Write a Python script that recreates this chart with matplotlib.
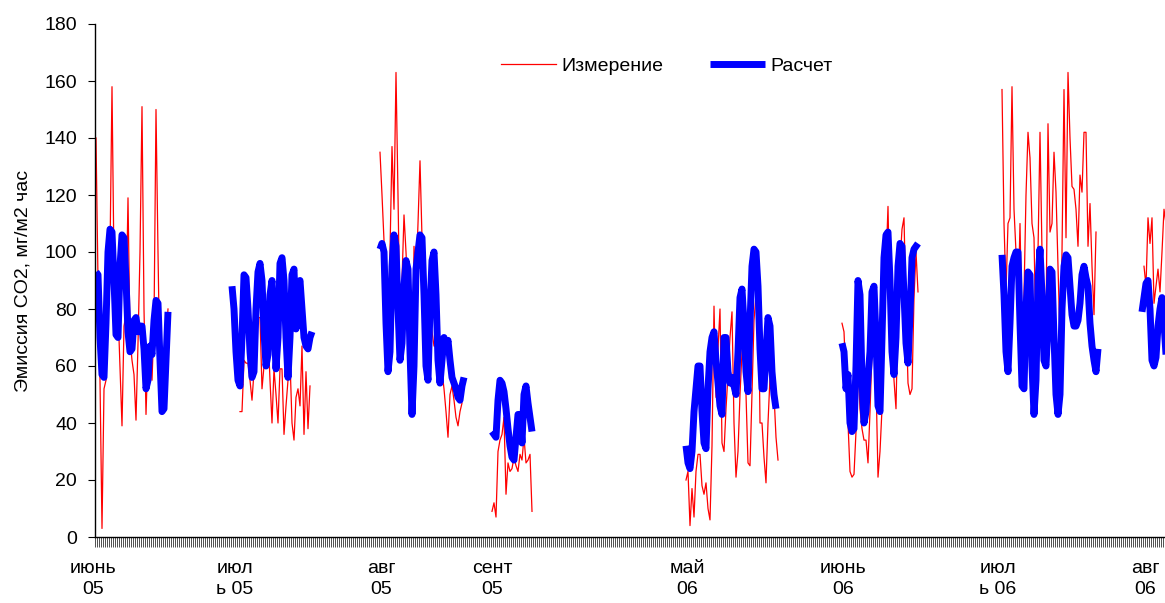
import numpy as np
import matplotlib.pyplot as plt

plt.rcParams['font.family'] = ['Liberation Sans', 'DejaVu Sans']
plt.rcParams['font.size'] = 14

n_cat = 545  # число категорий (отсчетов) по оси X

# подписи месяцев и их позиции (номер отсчета)
month_labels = ['июнь\n05', 'июл\nь 05', 'авг\n05', 'сент\n05',
                'май\n06', 'июнь\n06', 'июл\nь 06', 'авг\n06']
month_pos = [-1.5, 69.5, 142.5, 198, 295.5, 373.5, 451, 524.5]

# ---------------- Расчет (модель) ----------------
calc_start = [0, 68, 142, 198, 295, 373, 453, 523]
calc_jun05 = [93, 92, 70, 57, 56, 75, 100, 108, 107, 90, 71, 70, 95, 106, 105, 90, 72, 65, 66,
              76, 77, 72, 74, 74, 66, 52, 55, 67, 64, 76, 83, 82, 62, 44, 45, 62, 79]
calc_jul05 = [88, 80, 65, 55, 53, 70, 92, 91, 80, 65, 56, 58, 80, 93, 96, 90, 72, 60, 64, 85, 90,
              75, 59, 70, 96, 98, 90, 70, 56, 70, 92, 94, 73, 88, 90, 80, 70, 67, 66, 70, 72]
calc_aug05 = [101, 103, 100, 75, 58, 65, 95, 106, 102, 80, 62, 68, 88, 97, 94, 65, 43, 60, 94,
              100, 106, 105, 85, 60, 55, 80, 97, 100, 85, 62, 54, 62, 70, 66, 69, 62, 56, 54,
              52, 49, 48, 53, 56]
calc_sep05 = [37, 36, 35, 48, 55, 54, 51, 45, 38, 32, 28, 27, 35, 43, 43, 33, 50, 53, 47, 42, 37]
calc_may06 = [32, 26, 24, 30, 44, 52, 60, 60, 44, 33, 31, 52, 65, 70, 72, 62, 54, 46, 43, 70, 70,
              58, 54, 56, 53, 50, 65, 84, 87, 75, 58, 51, 75, 95, 101, 100, 88, 66, 52, 52, 65,
              77, 74, 58, 50, 45]
calc_jun06 = [68, 65, 52, 57, 40, 37, 38, 60, 90, 85, 55, 40, 44, 56, 65, 86, 88, 70, 46, 44, 70,
              98, 106, 107, 90, 65, 57, 70, 95, 103, 102, 85, 68, 61, 78, 98, 101, 102, 103]
calc_jul06 = [99, 85, 65, 58, 75, 95, 98, 100, 100, 75, 53, 52, 80, 93, 92, 60, 43, 55, 90, 101,
              85, 62, 60, 75, 94, 93, 70, 50, 43, 50, 80, 95, 99, 98, 88, 78, 74, 74, 76, 82,
              92, 95, 91, 88, 75, 67, 62, 58, 66]
calc_aug06 = [79, 84, 89, 90, 80, 62, 60, 63, 74, 80, 84, 75, 64, 60, 66]

# ---------------- Измерение ----------------
meas_start = [0, 72, 142, 198, 295, 373, 453, 524]
meas_jun05 = [140, 90, 55, 3, 52, 55, 90, 100, 158, 95, 72, 80, 60, 39, 74, 78, 119, 70, 62, 57,
              41, 68, 100, 151, 80, 43, 65, 65, 55, 75, 150, 100, 55, 43, 45, 70, 80]
meas_jul05 = [44, 44, 62, 61, 61, 55, 48, 58, 70, 77, 77, 52, 60, 65, 72, 55, 40, 59, 50, 40,
              59, 59, 36, 46, 55, 62, 40, 34, 49, 52, 46, 67, 36, 58, 38, 53]
meas_aug05 = [135, 120, 104, 80, 69, 100, 137, 115, 163, 120, 73, 90, 113, 100, 85, 77, 45, 102,
              90, 110, 132, 105, 95, 80, 86, 75, 72, 67, 67, 63, 62, 58, 52, 44, 35, 50, 53, 48,
              42, 39, 44, 47]
meas_sep05 = [9, 12, 7, 30, 34, 36, 42, 15, 26, 23, 24, 28, 25, 23, 29, 27, 35, 26, 27, 29, 9]
meas_may06 = [20, 23, 4, 17, 7, 23, 29, 29, 18, 15, 19, 10, 6, 32, 81, 49, 66, 80, 33, 30, 45,
              57, 70, 79, 40, 21, 30, 50, 65, 76, 50, 26, 25, 50, 76, 85, 96, 40, 40, 28, 19, 40,
              56, 52, 50, 35, 27]
meas_jun06 = [75, 72, 55, 40, 23, 21, 22, 37, 60, 45, 38, 34, 34, 26, 44, 65, 80, 55, 21, 30, 45,
              75, 96, 116, 80, 70, 55, 45, 80, 96, 108, 112, 80, 54, 50, 52, 84, 100, 86]
meas_jul06 = [157, 110, 86, 110, 112, 158, 115, 100, 80, 110, 72, 85, 120, 142, 133, 110, 105,
              68, 100, 142, 100, 80, 74, 145, 107, 110, 135, 121, 95, 69, 100, 157, 105, 163, 140,
              123, 122, 115, 102, 127, 121, 142, 142, 102, 117, 95, 78, 107]
meas_aug06 = [95, 88, 112, 103, 112, 82, 88, 94, 86, 100, 115, 110, 105]

calc_parts = [calc_jun05, calc_jul05, calc_aug05, calc_sep05,
              calc_may06, calc_jun06, calc_jul06, calc_aug06]
meas_parts = [meas_jun05, meas_jul05, meas_aug05, meas_sep05,
              meas_may06, meas_jun06, meas_jul06, meas_aug06]


def assemble(starts, parts):
    # собираем ряд с пропусками (NaN) между периодами измерений
    y = np.full(n_cat, np.nan)
    for s, p in zip(starts, parts):
        y[s:s + len(p)] = p
    return y


x = np.arange(n_cat)
calc = assemble(calc_start, calc_parts)
meas = assemble(meas_start, meas_parts)

fig = plt.figure(figsize=(11.65, 6.03), dpi=100)
W, H = 1165, 603
ax = fig.add_axes([95 / W, (H - 537) / H, 2 * n_cat / W, 513 / H])

ax.plot(x, meas, color='#ff0000', lw=0.9, label='Измерение')
ax.plot(x, calc, color='#0000ff', lw=5.0, solid_capstyle='butt', label='Расчет')

ax.set_xlim(-0.5, n_cat - 0.5)
ax.set_ylim(0, 180)
ax.set_yticks(np.arange(0, 181, 20))
ax.tick_params(axis='y', length=5, width=0.8, pad=8)
ax.set_ylabel('Эмиссия CO2, мг/м2 час', labelpad=9)

# риски на каждой категории, подписи месяцев — отдельным текстом
ax.set_xticks([])
ax.set_xticks(np.arange(n_cat) - 0.5, minor=True)
ax.tick_params(axis='x', which='minor', length=7, width=0.6, color='#333333')
for lab, p in zip(month_labels, month_pos):
    ax.text(p, -0.045, lab, transform=ax.get_xaxis_transform(), ha='center', va='top',
            linespacing=1.3, clip_on=False)

for side in ['top', 'right']:
    ax.spines[side].set_visible(False)
ax.spines['left'].set_linewidth(1.0)
ax.spines['bottom'].set_linewidth(1.0)

ax.legend(loc='center', bbox_to_anchor=((667 - 95) / (2 * n_cat), (537 - 66) / 513),
          ncol=2, frameon=False, handlelength=2.8, handletextpad=0.3, columnspacing=2.4)

fig.savefig('out.png', dpi=100)
